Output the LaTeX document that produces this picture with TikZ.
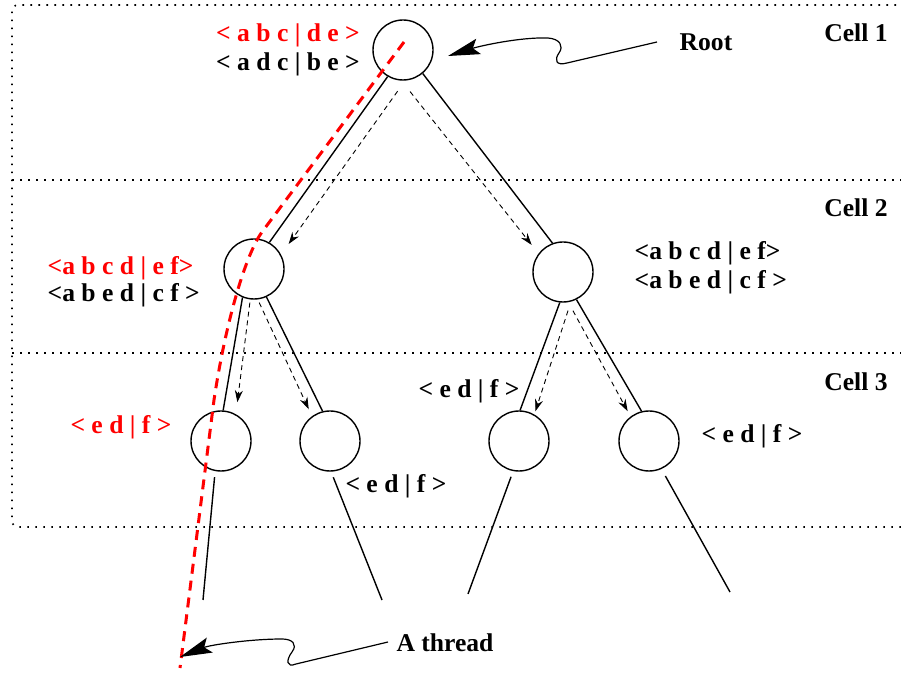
\documentclass[tikz,border=0pt]{standalone}
\usepackage{fontspec}
\setmainfont{Liberation Serif}
\usetikzlibrary{arrows.meta}

\begin{document}
\begin{tikzpicture}[x=0.5pt, y=-0.5pt, line width=0.7pt, font=\bfseries\fontsize{12.8}{15}\selectfont]
\tikzset{every node/.style={inner sep=0pt}}
\tikzset{vertex/.style={circle, draw, minimum size=30pt}}
\tikzset{flow/.style={line width=0.45pt, dash pattern=on 2.5pt off 2pt, -{Stealth[length=6pt, width=4pt, inset=2pt]}}}
\tikzset{cellbox/.style={line width=0.8pt, dash pattern=on 0.8pt off 3.2pt, rounded corners=3pt}}
\tikzset{thread/.style={red, line width=1.5pt, dash pattern=on 5pt off 3.5pt}}
\tikzset{pointer/.style={line width=0.6pt, -{Stealth[length=16pt, width=8pt, inset=3pt]}}}
\useasboundingbox (0,0) rectangle (901,679);

% cells
\draw[cellbox] (920,5) -- (12,5) -- (12,527) -- (920,527);
\draw[cellbox] (12,180) -- (920,180);
\draw[cellbox] (12,353) -- (920,353);
\node (cell1) at (856,33) {Cell 1};
\node (cell2) at (856,208) {Cell 2};
\node (cell3) at (856,382) {Cell 3};

% tree
\node[vertex] (root) at (403,50) {};
\node[vertex] (lmid) at (254,269) {};
\node[vertex] (rmid) at (563,272) {};
\node[vertex] (la) at (221,441) {};
\node[vertex] (lb) at (330,441) {};
\node[vertex] (ra) at (519,441) {};
\node[vertex] (rb) at (649,441) {};
\coordinate (leafa) at (203,600);
\coordinate (leafb) at (382,600);
\coordinate (leafc) at (468,594);
\coordinate (leafd) at (730,592);

\draw (root.-120) -- (lmid.60);
\draw (root.-50) -- (rmid.110);
\draw (lmid.-112) -- (la.86);
\draw (lmid.-66) -- (lb.104);
\draw (rmid.-96) -- (ra.88);
\draw (rmid.-64) -- (rb.104);
\draw[shorten <=3pt] (la.-101) -- (leafa);
\draw[shorten <=3pt] (lb.-88) -- (leafb);
\draw[shorten <=3pt] (ra.-101) -- (leafc);
\draw[shorten <=4pt] (rb.-66) -- (leafd);

\draw[flow, shorten <=6.5pt, shorten >=6.5pt] (root.-86) -- (lmid.28);
\draw[flow, shorten <=7pt, shorten >=5.5pt] (root.-93) -- (rmid.143);
\draw[flow, shorten <=1.6pt, shorten >=6pt] (lmid.-97) -- (la.61);
\draw[flow, shorten <=1.7pt, shorten >=3.8pt] (lmid.-83) -- (lb.126);
\draw[flow, shorten <=4.7pt, shorten >=1.6pt] (rmid.-75) -- (ra.60);
\draw[flow, shorten <=4.8pt, shorten >=3pt] (rmid.-80) -- (rb.127);

% permutations
\node[red] (rootnew) at (288,35) {< a b c | d e >};
\node (rootold) at (288,64) {< a d c | b e >};
\node[red, anchor=west] (lnew) at (47,268) {<a b c d | e f>};
\node[anchor=west] (lold) at (47,295) {<a b e d | c f >};
\node[anchor=west] (rnew) at (634,253) {<a b c d | e f>};
\node[anchor=west] (rold) at (634,282) {<a b e d | c f >};
\node[red] (laperm) at (121,427) {< e d | f >};
\node (lbperm) at (396,486) {< e d | f >};
\node (raperm) at (469,391) {< e d | f >};
\node (rbperm) at (752,436) {< e d | f >};

% the thread
\draw[thread] (404,42) -- (262,232) .. controls (246,254) and (226,320) .. (214,400) -- (180,668);

% callouts
\node (rootlbl) at (706,42) {Root};
\node (threadlbl) at (445,643) {A thread};
\coordinate (roottail) at (657,42);
\coordinate (roottip) at (448,56);
\coordinate (threadtail) at (388,642);
\coordinate (threadtip) at (180,657);
\draw[pointer] (roottail) -- (567,63) .. controls (556,66) and (554,60) .. (559,53)
  .. controls (564,46) and (560,39) .. (548,38) .. controls (520,37) and (480,46) .. (roottip);
\draw[pointer] (threadtail) -- (296,664) .. controls (286,668) and (286,660) .. (292,652)
  .. controls (298,644) and (292,639) .. (282,639) .. controls (250,639) and (210,645) .. (threadtip);
\end{tikzpicture}
\end{document}
